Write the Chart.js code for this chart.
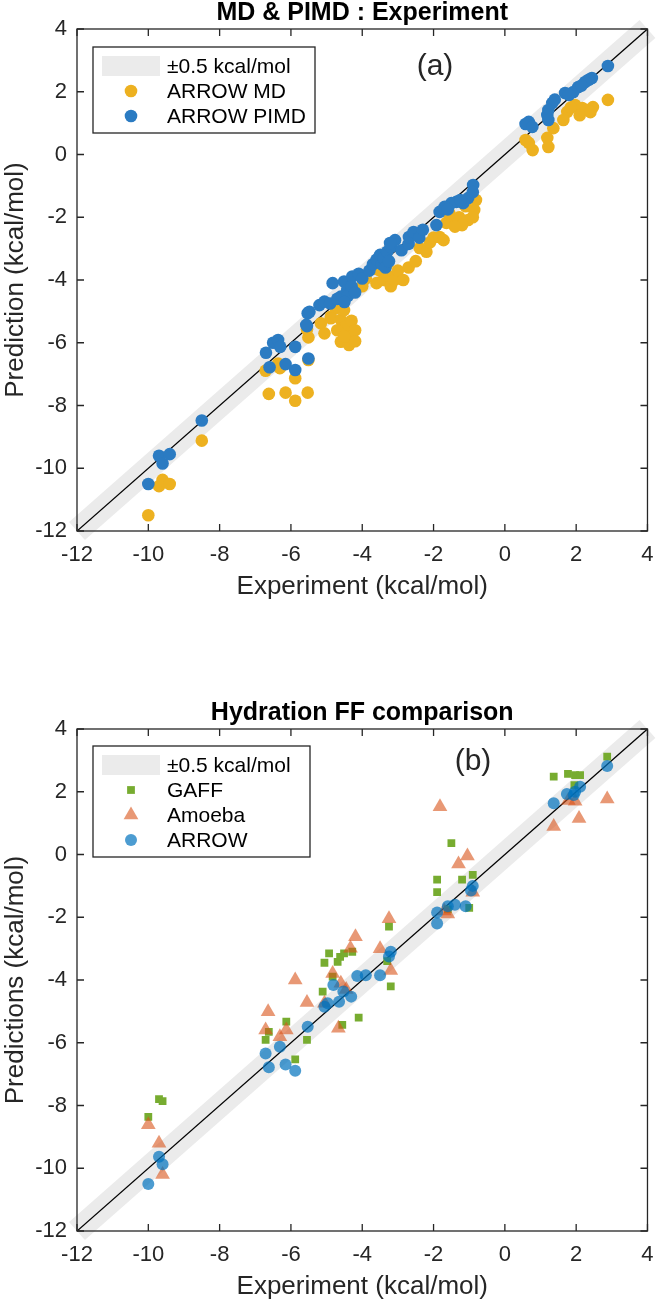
<!DOCTYPE html>
<html>
<head>
<meta charset="utf-8">
<script src="https://cdn.jsdelivr.net/npm/chart.js@4.4.1/dist/chart.umd.min.js"></script>
<style>
  body { margin: 0; background: #fff; }
  .panel { position: absolute; left: 0; width: 664px; height: 602px; }
</style>
</head>
<body>
<div class="panel" style="top:0px"><canvas id="chartA" width="664" height="602"></canvas></div>
<div class="panel" style="top:700px"><canvas id="chartB" width="664" height="602"></canvas></div>
<script>
// axis ticks, same on both panels
const tickVals = [-12, -10, -8, -6, -4, -2, 0, 2, 4];
const diagonal = [[-12, -12], [4, 4]];

// panel (a): [experiment, prediction]
const mdPts = [
  [-10.0, -11.5], [-9.7, -10.57], [-9.6, -10.37], [-9.4, -10.5], [-8.5, -9.12],
  [-6.62, -7.63], [-6.71, -6.89], [-6.36, -6.66], [-6.31, -6.81], [-6.15, -7.59],
  [-5.88, -7.13], [-5.88, -7.85], [-5.53, -7.59], [-5.51, -5.83], [-5.51, -6.55], [-5.55, -5.57],
  [-5.16, -5.38], [-5.06, -5.7], [-4.88, -5.17], [-4.74, -4.9], [-4.88, -5.22], [-4.6, -5.27],
  [-4.42, -5.49], [-4.33, -5.7], [-4.6, -5.97], [-4.37, -6.07], [-4.51, -4.96], [-4.5, -5.5],
  [-4.3, -5.3], [-4.2, -5.6], [-4.7, -5.6], [-4.4, -5.8], [-4.2, -5.95], [-4.5, -5.8],
  [-4.0, -4.2], [-3.9, -3.95], [-3.6, -4.1], [-3.5, -3.7], [-3.4, -4.0], [-3.3, -3.85],
  [-3.2, -4.2], [-3.1, -4.0], [-3.0, -3.7], [-2.85, -4.0], [-2.7, -3.6], [-2.5, -3.4],
  [-2.39, -2.98], [-2.2, -3.1], [-2.1, -2.8], [-2.0, -2.65], [-3.3, -3.5], [-3.6, -3.65],
  [-0.81, -1.45], [-0.86, -1.77], [-1.03, -2.09], [-1.28, -2.0], [-1.44, -2.09], [-1.64, -2.18],
  [-1.56, -1.87], [-1.83, -2.63], [-1.72, -2.73], [-1.2, -2.25], [-0.9, -2.0], [-1.4, -2.3], [-1.1, -1.65],
  [2.89, 1.74], [2.47, 1.51], [2.33, 1.42], [2.17, 1.48], [1.97, 1.58], [1.75, 1.36], [1.64, 1.1],
  [1.36, 0.84], [1.19, 0.53], [1.22, 0.24], [0.67, 0.37], [0.78, 0.14], [0.58, 0.46],
  [2.4, 1.35], [1.85, 1.5], [2.1, 1.25]
];
const pimdPts = [
  [-10.0, -10.5], [-9.7, -9.6], [-9.6, -9.85], [-9.4, -9.55], [-8.5, -8.48],
  [-6.7, -6.32], [-6.6, -6.78], [-6.5, -6.0], [-6.36, -5.91], [-6.3, -6.13], [-6.15, -6.68],
  [-5.88, -6.13], [-5.88, -6.87], [-5.53, -5.06], [-5.55, -5.47], [-5.51, -6.5],
  [-5.2, -4.8], [-5.06, -4.69], [-4.83, -4.1], [-4.51, -4.05], [-4.28, -3.89], [-4.42, -4.32],
  [-4.6, -4.53], [-5.48, -5.01], [-5.57, -5.43], [-4.9, -4.75], [-4.7, -4.6], [-4.4, -4.5],
  [-4.3, -4.2], [-4.5, -4.7], [-4.2, -4.4],
  [-4.1, -3.8], [-4.0, -3.95], [-3.8, -3.7], [-3.7, -3.5], [-3.6, -3.35], [-3.5, -3.2],
  [-3.45, -3.5], [-3.4, -3.3], [-3.35, -3.6], [-3.3, -3.1], [-3.25, -3.4], [-3.2, -2.95],
  [-3.08, -2.73], [-3.22, -2.82], [-2.9, -3.05], [-2.7, -2.85], [-2.69, -2.63], [-2.56, -2.47],
  [-2.4, -2.65], [-2.3, -2.4],
  [-0.89, -0.97], [-1.03, -1.39], [-1.17, -1.55], [-1.36, -1.51], [-1.5, -1.55], [-1.69, -1.67],
  [-1.83, -1.83], [-1.92, -2.25], [-1.6, -1.75], [-1.25, -1.45], [-0.9, -1.2],
  [2.89, 2.82], [2.44, 2.44], [2.35, 2.38], [2.25, 2.31], [2.06, 2.15], [1.92, 1.99], [1.69, 1.96],
  [1.8, 1.9], [1.33, 1.64], [1.22, 1.42], [1.19, 1.26], [1.22, 1.1], [0.67, 1.04], [0.58, 0.97],
  [0.77, 0.88], [1.4, 1.75], [2.15, 2.2]
];

// panel (b)
const gaffPts = [
  [2.87, 3.12], [1.37, 2.48], [1.77, 2.57], [1.97, 2.53], [2.11, 2.53], [1.95, 2.21],
  [-1.5, 0.36], [-1.9, -0.8], [-1.9, -1.2], [-1.2, -0.8], [-0.9, -0.65], [-1.0, -1.7], [-1.6, -1.75],
  [-3.3, -3.4], [-3.2, -4.2], [-3.25, -2.3], [-4.1, -5.2],
  [-4.93, -3.15], [-5.06, -3.45], [-4.69, -3.42], [-4.62, -3.26], [-4.51, -3.15], [-4.28, -3.1],
  [-4.83, -3.89], [-5.11, -4.37], [-4.56, -5.43], [-6.13, -5.33], [-6.62, -5.65], [-6.71, -5.91],
  [-5.55, -5.91], [-5.88, -6.53], [-9.7, -7.8], [-9.6, -7.86], [-10.0, -8.36]
];
const amoebaPts = [
  [-1.82, 1.52], [2.87, 1.77], [1.37, 0.89], [2.08, 1.15], [1.97, 1.7], [1.78, 1.72],
  [-1.3, -0.3], [-1.05, -0.05], [-0.9, -1.2], [-1.6, -1.9], [-1.7, -1.8],
  [-3.5, -3.0], [-3.25, -2.05], [-3.2, -3.7], [-4.19, -2.62], [-4.33, -2.99],
  [-5.88, -4.0], [-6.64, -5.01], [-6.71, -5.59], [-6.31, -5.81], [-6.13, -5.59], [-5.55, -4.72],
  [-4.83, -3.79], [-5.06, -4.74], [-4.6, -4.1], [-4.67, -5.54], [-4.45, -4.3],
  [-10.0, -8.61], [-9.7, -9.2], [-9.6, -10.2]
];
const arrowPts = [
  [2.87, 2.82], [1.37, 1.63], [1.74, 1.93], [1.93, 1.9], [1.97, 2.0], [2.11, 2.16],
  [-0.9, -1.0], [-0.95, -1.15], [-1.1, -1.65], [-1.4, -1.6], [-1.6, -1.65], [-1.9, -1.85], [-1.9, -2.2],
  [-3.2, -3.1], [-3.25, -3.25], [-3.5, -3.85], [-3.9, -3.85], [-4.14, -3.87],
  [-4.31, -4.53], [-4.53, -4.37], [-4.65, -4.69], [-4.81, -4.16], [-4.97, -4.74], [-5.06, -4.85],
  [-5.53, -5.49], [-5.88, -6.89], [-6.15, -6.69], [-6.31, -6.13], [-6.62, -6.78], [-6.71, -6.34],
  [-9.7, -9.63], [-9.6, -9.87], [-10.0, -10.5]
];

const FONT = "'Liberation Sans', Arial, Helvetica, sans-serif";
const INK = '#262626';
const BAND = '#ebebeb';
Chart.defaults.font.family = FONT;
Chart.defaults.color = INK;

const toXY = pts => pts.map(p => ({ x: p[0], y: p[1] }));

function drawMarker(ctx, style, r, x, y, color) {
  ctx.fillStyle = color;
  ctx.beginPath();
  if (style === 'rect') {
    const s = Math.SQRT1_2 * r;
    ctx.rect(x - s, y - s, 2 * s, 2 * s);
  } else if (style === 'triangle') {
    for (let k = 0; k < 3; k++) {
      const a = -Math.PI / 2 + k * 2 * Math.PI / 3;
      const px = x + r * Math.cos(a), py = y + r * Math.sin(a);
      k ? ctx.lineTo(px, py) : ctx.moveTo(px, py);
    }
    ctx.closePath();
  } else {
    ctx.arc(x, y, r, 0, Math.PI * 2);
  }
  ctx.fill();
}

// box, inward ticks, title, panel tag and legend, drawn like the matlab axes
const axesDeco = {
  id: 'axesDeco',
  afterDraw(chart, args, o) {
    const { ctx, chartArea: a, scales } = chart;
    ctx.save();
    ctx.strokeStyle = INK;
    ctx.lineWidth = 1.3;
    ctx.strokeRect(a.left, a.top, a.right - a.left, a.bottom - a.top);
    ctx.beginPath();
    tickVals.forEach(v => {
      const px = scales.x.getPixelForValue(v);
      ctx.moveTo(px, a.bottom); ctx.lineTo(px, a.bottom - 7);
      ctx.moveTo(px, a.top); ctx.lineTo(px, a.top + 7);
      const py = scales.y.getPixelForValue(v);
      ctx.moveTo(a.left, py); ctx.lineTo(a.left + 7, py);
      ctx.moveTo(a.right, py); ctx.lineTo(a.right - 7, py);
    });
    ctx.stroke();

    ctx.fillStyle = '#000';
    ctx.textAlign = 'center';
    ctx.textBaseline = 'middle';
    ctx.font = 'bold 25px ' + FONT;
    ctx.fillText(o.title, (a.left + a.right) / 2, 13);
    ctx.fillStyle = INK;
    ctx.font = '30px ' + FONT;
    ctx.fillText(o.tag, o.tagX, o.tagY);

    // legend
    const lx = a.left + 16, ly = a.top + o.legTop;
    const lh = 36 + (o.legend.length - 1) * 25;
    ctx.fillStyle = '#fff';
    ctx.fillRect(lx, ly, o.legW, lh);
    ctx.strokeStyle = INK;
    ctx.lineWidth = 1.3;
    ctx.strokeRect(lx, ly, o.legW, lh);
    ctx.font = '21px ' + FONT;
    ctx.textAlign = 'left';
    o.legend.forEach((it, i) => {
      const cy = ly + 19 + i * 25;
      if (it.band) {
        ctx.fillStyle = BAND;
        ctx.fillRect(lx + 9, cy - 10, 58, 20);
      } else {
        drawMarker(ctx, it.style, it.r, lx + 38, cy, it.color);
      }
      ctx.fillStyle = '#000';
      ctx.fillText(it.label, lx + 74, cy + 1);
    });
    ctx.restore();
  }
};

function makePanel(id, yTitle, series, deco) {
  const datasets = [
    { data: toXY(diagonal), showLine: true, borderColor: BAND, borderWidth: 24,
      borderCapStyle: 'butt', pointRadius: 0, clip: false, order: 20 },
    { data: toXY(diagonal), showLine: true, borderColor: '#000', borderWidth: 1.3,
      pointRadius: 0, order: 19 }
  ];
  series.forEach(s => datasets.push({
    label: s.label, data: toXY(s.pts), pointStyle: s.style, pointRadius: s.r,
    pointBackgroundColor: s.color, pointBorderWidth: 0, order: s.order
  }));
  const axis = (title, isX) => ({
    type: 'linear', min: -12, max: 4,
    afterBuildTicks: sc => { sc.ticks = tickVals.map(v => ({ value: v })); },
    ticks: { font: { size: 22 }, color: INK, padding: isX ? 10.4 : 10 },
    grid: { display: false, drawTicks: false },
    border: { display: false },
    title: { display: true, text: title, font: { size: 26 }, color: INK,
      padding: { top: 0, bottom: 0 } },
    afterFit: sc => { if (isX) sc.height = 71; else sc.width = 77; }
  });
  return new Chart(document.getElementById(id), {
    type: 'scatter',
    data: { datasets },
    options: {
      responsive: false,
      animation: false,
      layout: { padding: { top: 29, right: 11, left: 0, bottom: 0 } },
      scales: { x: axis('Experiment (kcal/mol)', true), y: axis(yTitle, false) },
      plugins: { legend: { display: false }, tooltip: { enabled: false }, axesDeco: deco }
    },
    plugins: [axesDeco]
  });
}

const mdSeries = { label: 'ARROW MD', pts: mdPts, style: 'circle', r: 6.3, color: '#EDB120', order: 2 };
const pimdSeries = { label: 'ARROW PIMD', pts: pimdPts, style: 'circle', r: 6.3, color: '#2b7bc2', order: 1 };
makePanel('chartA', 'Prediction (kcal/mol)', [mdSeries, pimdSeries], {
  title: 'MD & PIMD : Experiment', tag: '(a)', tagX: 435, tagY: 67,
  legTop: 18, legW: 222,
  legend: [{ band: true, label: '\u00b10.5 kcal/mol' }, mdSeries, pimdSeries]
});

const gaffSeries = { label: 'GAFF', pts: gaffPts, style: 'rect', r: 5.5, color: '#77AC30', order: 3 };
const amoebaSeries = { label: 'Amoeba', pts: amoebaPts, style: 'triangle', r: 8.5, color: 'rgba(217,83,25,0.6)', order: 2 };
const arrowSeries = { label: 'ARROW', pts: arrowPts, style: 'circle', r: 6, color: 'rgba(0,114,189,0.7)', order: 1 };
makePanel('chartB', 'Predictions (kcal/mol)', [gaffSeries, amoebaSeries, arrowSeries], {
  title: 'Hydration FF comparison', tag: '(b)', tagX: 473, tagY: 62,
  legTop: 17, legW: 217,
  legend: [{ band: true, label: '\u00b10.5 kcal/mol' }, gaffSeries, amoebaSeries, arrowSeries]
});
</script>
</body>
</html>
